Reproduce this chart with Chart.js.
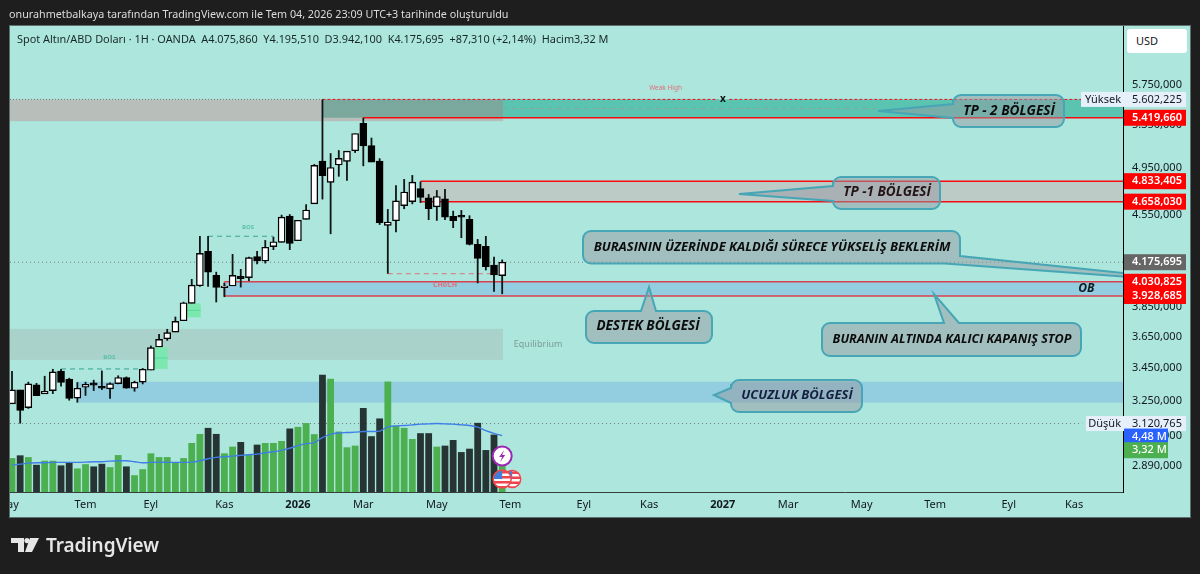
<!DOCTYPE html>
<html lang="tr">
<head>
<meta charset="utf-8">
<title>Spot Altın/ABD Doları</title>
<script src="https://cdn.jsdelivr.net/npm/chart.js@4"></script>
<style>
    html, body { margin: 0; width: 1200px; height: 574px; overflow: hidden; background: #1e1e1e; font-family: "Noto Sans", sans-serif; }
    #panel { position: absolute; left: 9px; top: 25px; width: 1180px; height: 491px; background: #ace6dc; border: 1px solid #5d6f6c; }
    #chart { position: absolute; left: 0; top: 0; }
    #byline { position: absolute; left: 9px; top: 6px; font-size: 10.75px; line-height: 16px; color: #dcdcdc; white-space: nowrap; }
    #legend { position: absolute; left: 17px; top: 31px; font-size: 10.9px; line-height: 16px; color: #18282a; white-space: pre; }
    #currency { position: absolute; left: 1127px; top: 29px; width: 51px; height: 24px; padding-left: 9px; background: #fff; border-radius: 3px; font-size: 11px; line-height: 24px; color: #131722; }
    #brand { position: absolute; left: 11px; top: 531px; height: 28px; display: flex; align-items: center; color: #e6e6e6; }
    #brand span { margin-left: 7px; font-size: 19px; font-weight: 600; letter-spacing: -0.1px; }
</style>
</head>
<body>
<div id="panel"></div>
<canvas id="chart" width="1200" height="574"></canvas>
<div id="byline">onurahmetbalkaya tarafından TradingView.com ile Tem 04, 2026 23:09 UTC+3 tarihinde oluşturuldu</div>
<div id="legend">Spot Altın/ABD Doları · 1H · OANDA  A4.075,860  Y4.195,510  D3.942,100  K4.175,695  +87,310 (+2,14%)  Hacim3,32 M</div>
<div id="currency">USD</div>
<div id="brand">
    <svg width="28" height="14" viewBox="0 0 28 14"><path d="M0 0H13V14H7V5H0Z M19 0H28L21 14H14Z" fill="#e6e6e6"/><circle cx="16" cy="2.6" r="2.6" fill="#e6e6e6"/></svg>
    <span>TradingView</span>
</div>

<script>
// Candles
const opens = [3234,3316,3212,3346,3292,3312,3430,3381,3267,3332,3358,3338,3322,3354,3391,3326,3363,3436,3583,3637,3681,3757,3877,4002,4259,4078,3989,4000,4071,4061,4218,4185,4295,4328,4539,4341,4511,4640,5012,4823,4977,5009,5106,5366,5154,5012,4463,4500,4625,4658,4770,4690,4615,4682,4536,4544,4511,4312,4297,4155,4075.86];
const highs = [3432,3316,3365,3358,3401,3444,3444,3389,3363,3365,3377,3434,3360,3404,3397,3371,3449,3592,3668,3702,3785,3888,4051,4378,4378,4104,4022,4238,4125,4218,4261,4346,4372,4549,4554,4507,4636,4985,5602.225,5084,5112,5103,5268,5419.66,5228,5037,4596,4798,4852,4887,4830,4722,4756,4765,4582,4588,4544,4354,4378,4218,4195.51];
const lows = [3234,3120.765,3205,3282,3292,3292,3336,3253,3241,3281,3310,3316,3263,3350,3324,3306,3350,3436,3583,3624,3681,3757,3877,3995,3995,3884,3921,4000,3990,4037,4160,4167,4269,4328,4269,4341,4511,4640,4677,4393,4873,4837,5087,4966,5003,4467,4090,4407,4596,4637,4648,4506,4500,4506,4442,4362,4305,4020,4115,3959,3942.1];
const closes = [3316,3195,3352,3282,3308,3426,3361,3265,3326,3350,3344,3326,3354,3391,3326,3363,3442,3579,3633,3677,3753,3881,4007,4243,4102,3990,4000,4078,4053,4210,4185,4290,4333,4530,4320,4504,4588,4973,4881,4954,5036,5103,5268,5150,5003,4484,4490,4665,4740,4825,4693,4599,4702,4530,4500,4530,4312,4205,4142,4081,4175.695];

// Volume in millions and its moving average
const volumes = [2.69,2.91,2.77,2.16,2.48,2.48,2.11,2.32,1.87,2.21,2.03,2.24,1.97,2.93,2.03,1.33,1.81,3.07,2.77,2.77,2.37,2.69,3.89,4.61,5.09,4.61,3.07,3.6,3.97,2.96,3.76,3.89,3.89,4.05,5.04,5.17,5.47,4.59,9.31,8.99,4.8,3.55,3.68,6.67,4.43,5.84,8.77,5.25,5.09,4.21,4.67,4.67,3.6,3.68,4.13,3.17,3.44,5.49,3.33,4.56,3.32];
const volumeAverage = [2.13,2.21,2.29,2.32,2.32,2.35,2.35,2.35,2.35,2.37,2.4,2.4,2.45,2.48,2.48,2.4,2.32,2.35,2.37,2.35,2.35,2.35,2.37,2.48,2.64,2.75,2.8,2.85,2.91,2.96,3.01,3.12,3.2,3.31,3.47,3.68,3.84,3.92,4.32,4.59,4.69,4.72,4.75,4.8,4.8,4.83,5.17,5.25,5.28,5.33,5.39,5.41,5.44,5.41,5.39,5.33,5.28,5.15,4.88,4.66,4.48];

// Axis ticks
const priceTicks = [5750,5350,4950,4550,3850,3650,3450,3250,3050,2890];
const monthTickBars = [-0.5,9,17,26,35,43,52,61,70,78,87,95,104,113,122,130];
const monthTickLabels = ["May","Tem","Eyl","Kas","2026","Mar","May","Tem","Eyl","Kas","2027","Mar","May","Tem","Eyl","Kas"];

// Key price levels
const periodHigh = 5602.225;
const periodLow = 3120.765;
const lastPrice = 4175.695;
const premiumBottom = 5387;
const tp2Bottom = 5419.66;
const tp1Top = 4833.405;
const tp1Bottom = 4658.03;
const obTop = 4030.825;
const obBottom = 3928.685;
const equilibriumTop = 3702;
const equilibriumBottom = 3501;
const discountTop = 3365;
const discountBottom = 3241;
const fvgLower = [3444, 3582];
const fvgUpper = [3780, 3877];
const bosLower = 3444;
const bosUpper = 4376;
const chochLevel = 4090;
const lastVolumeAverage = 4.48;
const lastVolume = 3.32;

const axisFont = '"Noto Sans", sans-serif';
const calloutFont = '"Open Sans", sans-serif';

// Number format used by the price axis, 5750 -> 5.750,000
const formatPrice = (value) => {
    let [whole, fraction] = value.toFixed(3).split(".");
    return `${whole.replace(/\B(?=(\d{3})+$)/g, ".")},${fraction}`;
}

const barIndexes = opens.map((value, index) => index);
const candleBodies = barIndexes.map(i => ({x: i, y: [opens[i], closes[i]]}));
const candleWicks = barIndexes.map(i => ({x: i, y: [lows[i], highs[i]]}));
const volumeBars = barIndexes.map(i => ({x: i, y: volumes[i]}));
const averageLine = barIndexes.map(i => ({x: i, y: volumeAverage[i]}));
const isRising = (i) => closes[i] >= opens[i];

// Zones, levels and their small labels, behind the candles
const zonesPlugin = {
    id: "zones",
    beforeDatasetsDraw(chart) {
        const {ctx, chartArea, scales} = chart;
        const xs = scales.x, ys = scales.y;
        const X = (v) => xs.getPixelForValue(v);
        const Y = (v) => ys.getPixelForValue(v);

        const zone = (from, to, top, bottom, fill) => {
            ctx.fillStyle = fill;
            ctx.fillRect(X(from), Y(top), X(to) - X(from), Y(bottom) - Y(top));
        }
        const level = (from, to, price, color, width, dash) => {
            ctx.strokeStyle = color;
            ctx.lineWidth = width;
            ctx.setLineDash(dash);
            ctx.beginPath();
            ctx.moveTo(X(from), Y(price));
            ctx.lineTo(X(to), Y(price));
            ctx.stroke();
            ctx.setLineDash([]);
        }
        const note = (bar, price, text, color, font) => {
            ctx.fillStyle = color;
            ctx.font = font;
            ctx.textAlign = "center";
            ctx.textBaseline = "middle";
            ctx.fillText(text, X(bar), Y(price));
        }

        ctx.save();
        ctx.beginPath();
        ctx.rect(chartArea.left, chartArea.top, chartArea.width, chartArea.height);
        ctx.clip();

        // Premium and TP-2
        zone(xs.min, 60.1, periodHigh, premiumBottom, "#b8bfba");
        zone(38, 60.1, periodHigh, tp2Bottom, "#7aa89c");
        zone(60.1, xs.max, periodHigh, tp2Bottom, "#5bc4b1");
        level(38, 106, (periodHigh + tp2Bottom) / 2, "#83a99f", 1, [5, 4]);
        level(xs.min, 38, periodHigh, "#6f7d7a", 1, [1, 2]);
        level(38, 86.4, periodHigh, "#f01020", 1, [3, 2]);
        level(87.8, 131, periodHigh, "#f01020", 1, [3, 2]);
        level(43, xs.max, tp2Bottom, "#f80a10", 1.5, []);
        note(80, 5719, "Weak High", "#e0707f", `6.5px ${axisFont}`);
        note(87, 5602, "x", "#101010", `bold 10px ${axisFont}`);

        // TP-1
        zone(50, xs.max, tp1Top, tp1Bottom, "#bccbc6");
        level(50, xs.max, tp1Top, "#f80a10", 1.5, []);
        level(50, xs.max, tp1Bottom, "#f80a10", 1.5, []);

        // Order block
        zone(26, xs.max, obTop, obBottom, "#93cde0");
        level(26, xs.max, obTop, "#d8404f", 1.5, []);
        level(26, xs.max, obBottom, "#d8404f", 1.5, []);
        ctx.strokeStyle = "#d8404f";
        ctx.lineWidth = 1.5;
        ctx.beginPath();
        ctx.moveTo(X(26), Y(obTop));
        ctx.lineTo(X(26), Y(obBottom));
        ctx.stroke();
        note(131.5, (obTop + obBottom) / 2, "OB", "#101820", `italic 700 12px ${calloutFont}`);

        // Equilibrium and discount
        zone(xs.min, 60.1, equilibriumTop, equilibriumBottom, "#a8d2ca");
        note(64.4, 3600, "Equilibrium", "#7d9c97", `9px ${axisFont}`);
        zone(8, xs.max, discountTop, discountBottom, "#92cee0");

        // Fair value gaps
        zone(17.4, 19.05, fvgLower[1], fvgLower[0], "#7ce8b0");
        level(17.4, 19.05, (fvgLower[0] + fvgLower[1]) / 2, "#55d89a", 1, []);
        zone(21.4, 23.1, fvgUpper[1], fvgUpper[0], "#7ce8b0");
        level(21.4, 23.1, (fvgUpper[0] + fvgUpper[1]) / 2, "#55d89a", 1, []);

        // Structure breaks
        level(6, 16, bosLower, "#35a592", 1, [5, 4]);
        note(11.9, 3515, "BOS", "#5cc0aa", `bold 6px ${axisFont}`);
        level(24, 32, bosUpper, "#35a592", 1, [5, 4]);
        note(28.9, 4445, "BOS", "#5cc0aa", `bold 6px ${axisFont}`);
        level(46, 59, chochLevel, "#e0707a", 1, [5, 4]);
        note(53, 4010, "CHoCH", "#e0707a", `bold 7px ${axisFont}`);

        // Last price, high and low lines
        level(xs.min, xs.max, lastPrice, "#6f7d7a", 1, [1, 3]);
        level(xs.min, 131, periodLow, "#6f7d7a", 1, [1, 3]);

        ctx.restore();
    }
};

// Speech bubbles, axis tags and event markers, above the candles
const overlayPlugin = {
    id: "overlay",
    afterDatasetsDraw(chart) {
        const {ctx, chartArea, scales} = chart;
        const X = (v) => scales.x.getPixelForValue(v);
        const Y = (v) => scales.y.getPixelForValue(v);
        const V = (v) => scales.volume.getPixelForValue(v);

        const bubble = (points, label, textX, textY, fontSize, color) => {
            ctx.beginPath();
            let first = points[0], last = points[points.length - 1];
            ctx.moveTo((first[0] + last[0]) / 2, (first[1] + last[1]) / 2);
            points.forEach((point, i) => {
                let next = points[(i + 1) % points.length];
                ctx.arcTo(point[0], point[1], next[0], next[1], point[2] || 0);
            });
            ctx.closePath();
            ctx.fillStyle = "rgba(149,152,161,0.5)";
            ctx.fill();
            ctx.strokeStyle = "#46a6b6";
            ctx.lineWidth = 2;
            ctx.stroke();
            ctx.fillStyle = color;
            ctx.font = `italic 700 ${fontSize}px ${calloutFont}`;
            ctx.textAlign = "center";
            ctx.textBaseline = "middle";
            ctx.fillText(label, textX, textY);
        }

        ctx.save();
        ctx.beginPath();
        ctx.rect(chartArea.left, chartArea.top, chartArea.width, chartArea.height);
        ctx.clip();
        bubble([[953,95,8],[1064,95,8],[1064,127,8],[953,127,8],[953,118],[878,111],[953,104]], "TP - 2 BÖLGESİ", 1009, 111, 13.6, "#0c0c0c");
        bubble([[833,177,8],[940,177,8],[940,209,8],[833,209,8],[833,201],[739,194],[833,186]], "TP -1 BÖLGESİ", 887, 192, 13.5, "#241414");
        bubble([[583,231,8],[960,231,8],[960,256],[1240,285],[945,263.5],[583,263.5,8]], "BURASININ ÜZERİNDE KALDIĞI SÜRECE YÜKSELİŞ BEKLERİM", 772, 247, 13, "#0c0c0c");
        bubble([[586,311,8],[641,311],[649,287],[656,311],[712,311,8],[712,343,8],[586,343,8]], "DESTEK BÖLGESİ", 648, 326, 13.5, "#0c0c0c");
        bubble([[822,323,8],[944,323],[934,294],[959,323],[1081,323,8],[1081,356,8],[822,356,8]], "BURANIN ALTINDA KALICI KAPANIŞ STOP", 952, 339, 12.6, "#0c0c0c");
        bubble([[731,380,8],[862,380,8],[862,412,8],[731,412,8],[731,403],[714,395],[731,388]], "UCUZLUK BÖLGESİ", 797, 395, 13, "#142040");
        ctx.restore();

        // Event markers at the last candle
        const eventX = X(60);
        ctx.lineWidth = 2;
        ctx.fillStyle = "#fff";
        ctx.strokeStyle = "#9c27b0";
        ctx.beginPath();
        ctx.arc(eventX, 456, 9.5, 0, Math.PI * 2);
        ctx.fill();
        ctx.stroke();
        ctx.fillStyle = "#9c27b0";
        ctx.beginPath();
        [[2,-6],[-3,1],[0,1],[-2,6],[3,-1],[0,-1]].forEach((p, i) => {
            i ? ctx.lineTo(eventX + p[0], 456 + p[1]) : ctx.moveTo(eventX + p[0], 456 + p[1]);
        });
        ctx.closePath();
        ctx.fill();

        const flag = (cx, cy, radius) => {
            ctx.save();
            ctx.beginPath();
            ctx.arc(cx, cy, radius, 0, Math.PI * 2);
            ctx.fillStyle = "#fff";
            ctx.fill();
            ctx.clip();
            ctx.fillStyle = "#f0454c";
            for (let i = 0; i < 4; i++) {
                ctx.fillRect(cx - radius, cy - radius + 1 + i * 5, radius * 2, 2.5);
            }
            ctx.fillStyle = "#3f7fd8";
            ctx.fillRect(cx - radius, cy - radius, radius, radius);
            ctx.restore();
            ctx.strokeStyle = "#f0454c";
            ctx.lineWidth = 1.5;
            ctx.beginPath();
            ctx.arc(cx, cy, radius, 0, Math.PI * 2);
            ctx.stroke();
        }
        flag(eventX + 10, 479, 8.5);
        flag(eventX, 479, 9);

        // Price axis tags
        const tagLeft = chartArea.right + 1;
        const tag = (y, text, fill, color, weight, width) => {
            ctx.fillStyle = fill;
            ctx.fillRect(tagLeft, y - 8, width || 62, 16);
            ctx.fillStyle = color;
            ctx.font = `${weight} 11px ${axisFont}`;
            ctx.textAlign = "left";
            ctx.textBaseline = "middle";
            ctx.fillText(text, chartArea.right + 9, y);
        }
        const extreme = (price, word, boxLeft) => {
            let y = Y(price);
            ctx.fillStyle = "#e6f0fa";
            ctx.fillRect(boxLeft, y - 7.5, tagLeft + 62 - boxLeft, 15);
            ctx.fillStyle = "#131722";
            ctx.font = `11px ${axisFont}`;
            ctx.textBaseline = "middle";
            ctx.textAlign = "right";
            ctx.fillText(word, chartArea.right - 2, y);
            ctx.textAlign = "left";
            ctx.fillText(formatPrice(price), chartArea.right + 9, y);
        }
        extreme(periodHigh, "Yüksek", 1081);
        extreme(periodLow, "Düşük", 1086);
        tag(Y(tp2Bottom), formatPrice(tp2Bottom), "#ff0000", "#fff", 600);
        tag(Y(tp1Top), formatPrice(tp1Top), "#ff0000", "#fff", 600);
        tag(Y(tp1Bottom), formatPrice(tp1Bottom), "#ff0000", "#fff", 600);
        tag(Y(lastPrice), formatPrice(lastPrice), "#666666", "#fff", 600);
        tag(Y(obTop), formatPrice(obTop), "#ff0000", "#fff", 600);
        tag(Y(obBottom), formatPrice(obBottom), "#ff0000", "#fff", 600);
        tag(V(lastVolumeAverage) + 1, "4,48 M", "#2962ff", "#fff", 500, 44);
        tag(V(lastVolume), "3,32 M", "#4caf50", "#fff", 500, 44);
    },
    afterDraw(chart) {
        // The first month label runs past the left edge of the pane
        chart.ctx.clearRect(0, chart.chartArea.bottom, chart.chartArea.left - 0.5, 30);
    }
};

new Chart(document.querySelector("#chart"), {
    data: {
        datasets: [
            {
                type: "bar",
                label: "Fitil",
                data: candleWicks,
                yAxisID: "y",
                barThickness: 1.8,
                grouped: false,
                inflateAmount: 0,
                backgroundColor: "#101414",
                order: 3
            },
            {
                type: "bar",
                label: "Mum",
                data: candleBodies,
                yAxisID: "y",
                barThickness: 7,
                grouped: false,
                backgroundColor: barIndexes.map(i => isRising(i) ? "#ffffff" : "#000000"),
                borderColor: "#000000",
                borderWidth: 1.4,
                borderSkipped: false,
                order: 2
            },
            {
                type: "line",
                label: "Hacim MA",
                data: averageLine,
                yAxisID: "volume",
                borderColor: "#3f7ee8",
                borderWidth: 1.4,
                pointRadius: 0,
                tension: 0.3,
                order: 4
            },
            {
                type: "bar",
                label: "Hacim",
                data: volumeBars,
                yAxisID: "volume",
                barThickness: 6.8,
                grouped: false,
                inflateAmount: 0,
                backgroundColor: barIndexes.map(i => isRising(i) ? "#4caf50" : "#263533"),
                order: 5
            }
        ]
    },
    options: {
        responsive: false,
        animation: false,
        events: [],
        layout: {padding: {left: 10, top: 26, right: 10, bottom: 57}},
        plugins: {legend: {display: false}, tooltip: {enabled: false}},
        scales: {
            x: {
                type: "linear",
                min: -0.245,
                max: 135.99,
                offset: false,
                grid: {display: false, drawTicks: false},
                border: {color: "#37403f", width: 1},
                afterBuildTicks: (axis) => {
                    axis.ticks = monthTickBars.map(value => ({value}));
                },
                afterFit: (axis) => {
                    axis.height = 25;
                    axis.paddingLeft = 0;
                    axis.paddingRight = 0;
                },
                ticks: {
                    autoSkip: false,
                    maxRotation: 0,
                    padding: 6,
                    color: "#131722",
                    font: (context) => {
                        let label = context.tick ? String(context.tick.label) : "";
                        return {family: axisFont, size: 11, weight: label.startsWith("20") ? "bold" : "normal"};
                    },
                    callback: (value) => monthTickLabels[monthTickBars.indexOf(value)]
                }
            },
            y: {
                type: "logarithmic",
                position: "right",
                min: 2758,
                max: 6396,
                grid: {display: false, drawTicks: false},
                border: {color: "#000000", width: 1},
                afterBuildTicks: (axis) => {
                    axis.ticks = priceTicks.map(value => ({value}));
                },
                afterFit: (axis) => {
                    axis.width = 67;
                    axis.paddingTop = 0;
                    axis.paddingBottom = 0;
                },
                ticks: {
                    autoSkip: false,
                    padding: 9,
                    color: "#131722",
                    font: {family: axisFont, size: 11},
                    callback: (value) => formatPrice(value)
                }
            },
            volume: {
                type: "linear",
                display: false,
                min: 0,
                max: 37
            }
        }
    },
    plugins: [zonesPlugin, overlayPlugin]
});
</script>
</body>
</html>
